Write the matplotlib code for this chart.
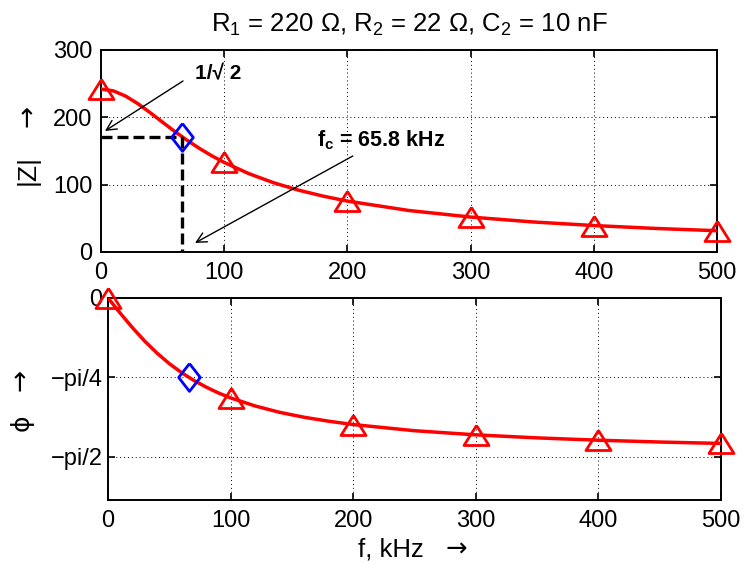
import numpy as np
import matplotlib.pyplot as plt

# Helvetica-like look, fall back to DejaVu for arrows / greek
plt.rcParams["font.family"] = ["Liberation Sans", "DejaVu Sans"]
plt.rcParams["mathtext.fontset"] = "custom"
plt.rcParams["mathtext.rm"] = "Liberation Sans"
plt.rcParams["mathtext.bf"] = "Liberation Sans:bold"

# --- data ---
# curve |Z| and phase over frequency (kHz)
f_khz = [0, 10, 20, 30, 40, 50, 60, 70, 80, 90, 100,
         120, 140, 160, 180, 200, 250, 300, 350, 400, 450, 500]
z_abs = [242.0, 239.3, 231.5, 220.2, 206.8, 192.7, 178.8, 165.8, 153.7, 142.8, 133.0,
         116.4, 102.9, 92.0, 83.1, 75.6, 61.6, 51.9, 44.7, 39.3, 35.0, 31.6]
phi = [0.0, -0.151, -0.295, -0.428, -0.546, -0.650, -0.739, -0.816, -0.882, -0.940, -0.989,
       -1.069, -1.132, -1.181, -1.220, -1.253, -1.314, -1.355, -1.385, -1.408, -1.426, -1.440]

# triangle markers
f_mark = [0, 100, 200, 300, 400, 500]
z_mark = [242.0, 133.0, 75.6, 51.9, 39.3, 31.6]
phi_mark = [0.0, -0.989, -1.253, -1.355, -1.408, -1.440]

# cut-off point (diamond)
f_c = 65.8
z_c = 171.1
phi_c = -0.785

x_ticks = [0, 100, 200, 300, 400, 500]
z_ticks = [0, 100, 200, 300]
phi_ticks = [-np.pi / 2, -np.pi / 4, 0]
phi_labels = ["\u2212pi/2", "\u2212pi/4", "0"]

# MATLAB-ish markers: wide triangle, tall diamond
tri = [(0, 0.8), (-1, -0.8), (1, -0.8), (0, 0.8)]
dia = [(0, 1), (0.78, 0), (0, -1), (-0.78, 0), (0, 1)]

fig = plt.figure(figsize=(7.46, 5.63), dpi=100)
ax1 = fig.add_axes([0.1354, 0.5524, 0.8257, 0.3588])
ax2 = fig.add_axes([0.1448, 0.1119, 0.8217, 0.3588])


def style(ax, ypad):
    ax.grid(True, color="k", linestyle=(0, (1, 3)), linewidth=0.7)
    ax.tick_params(direction="in", length=5, width=1.2, top=True, right=True,
                   labelsize=17)
    ax.tick_params(axis="x", pad=7)
    ax.tick_params(axis="y", pad=ypad)
    for s in ax.spines.values():
        s.set_linewidth(1.4)


# --- upper panel: |Z| ---
ax1.plot(f_khz, z_abs, color="red", lw=2.5, zorder=3)
ax1.plot(f_mark, z_mark, linestyle="none", marker=tri, ms=18, mfc="none",
         mec="red", mew=2, zorder=4, clip_on=False)
ax1.plot([0, f_c], [z_c, z_c], color="k", lw=2.4, ls=(0, (3.3, 1.5)), zorder=3)
ax1.plot([f_c, f_c], [z_c, 0], color="k", lw=2.4, ls=(0, (3.3, 1.5)), zorder=3)
ax1.plot([f_c], [z_c], linestyle="none", marker=dia, ms=20, mfc="none",
         mec="blue", mew=2, zorder=5, clip_on=False)

ax1.set_xlim(0, 500)
ax1.set_ylim(0, 300)
ax1.set_xticks(x_ticks)
ax1.set_yticks(z_ticks)
style(ax1, 6)
ax1.set_title("R$_\\mathrm{1}$ = 220 \u03a9, R$_\\mathrm{2}$ = 22 \u03a9, C$_\\mathrm{2}$ = 10 nF",
              fontsize=18.5, pad=13)

arrow = dict(arrowstyle="->", color="k", lw=1, shrinkA=0, shrinkB=0, mutation_scale=18)
ax1.annotate("", xy=(3.2, 179.7), xytext=(66.6, 254), arrowprops=arrow, zorder=6)
ax1.annotate("", xy=(76.3, 13.4), xytext=(204.4, 142.6), arrowprops=arrow, zorder=6)
ax1.text(76.3, 257, "1/\u221a 2", fontsize=15, fontweight="bold", va="baseline")
ax1.text(175.7, 157.4, "f$_\\mathbf{c}$ = 65.8 kHz", fontsize=15.5, fontweight="bold",
         va="baseline")

# --- lower panel: phase ---
ax2.plot(f_khz, phi, color="red", lw=2.5, zorder=3)
ax2.plot(f_mark, phi_mark, linestyle="none", marker=tri, ms=18, mfc="none",
         mec="red", mew=2, zorder=4, clip_on=False)
ax2.plot([f_c], [phi_c], linestyle="none", marker=dia, ms=20, mfc="none",
         mec="blue", mew=2, zorder=5, clip_on=False)

ax2.set_xlim(0, 500)
ax2.set_ylim(-2, 0)
ax2.set_xticks(x_ticks)
ax2.set_yticks(phi_ticks)
ax2.set_yticklabels(phi_labels)
style(ax2, 4)

# axis labels: text + arrow (arrow from DejaVu, it is longer there)
fig.text(0.0375, 0.698, "|Z|", fontsize=19, rotation=90, ha="center", va="center")
fig.text(0.0375, 0.794, "\u2192", fontsize=19, rotation=90, ha="center", va="center",
         family="DejaVu Sans")
fig.text(0.0295, 0.2487, "\u03d5", fontsize=18, rotation=90, ha="center", va="center",
         family="DejaVu Sans")
fig.text(0.0282, 0.325, "\u2192", fontsize=19, rotation=90, ha="center", va="center",
         family="DejaVu Sans")
fig.text(358 / 746, 1 - 557 / 563, "f, kHz", fontsize=18.5, ha="left", va="baseline")
fig.text(446 / 746, 1 - 557 / 563, "\u2192", fontsize=18.5, ha="left", va="baseline",
         family="DejaVu Sans")

fig.savefig("out.png", dpi=100)
